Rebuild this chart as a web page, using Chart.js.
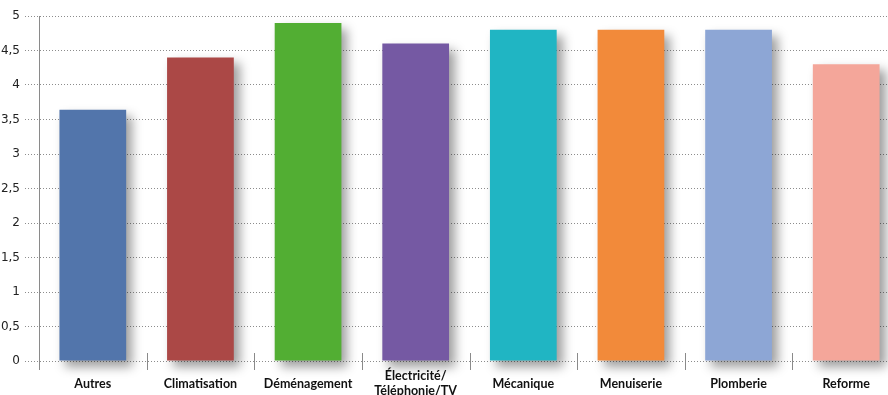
<!DOCTYPE html>
<html>
<head>
<meta charset="utf-8">
<script src="https://cdn.jsdelivr.net/npm/chart.js@4/dist/chart.umd.min.js"></script>
<style>
  html, body { margin: 0; padding: 0; background: #fff; overflow: hidden; }
  #wrap { width: 888px; height: 395px; overflow: hidden; }
</style>
</head>
<body>
<div id="wrap"><canvas id="noteChart" width="900" height="395"></canvas></div>
<script>
// Catégories et notes moyennes
const categories = ['Autres', 'Climatisation', 'Déménagement', ['Électricité/', 'Téléphonie/TV'], 'Mécanique', 'Menuiserie', 'Plomberie', 'Reforme'];
const notes = [3.64, 4.4, 4.9, 4.6, 4.8, 4.8, 4.8, 4.3];
const barColors = ['#5275AB', '#AB4846', '#52AE33', '#7559A3', '#20B5C3', '#F28A3A', '#8DA6D5', '#F4A69A'];
const yTicks = [0, 0.5, 1, 1.5, 2, 2.5, 3, 3.5, 4, 4.5, 5];

// Ombre portée sous les barres
const barShadow = {
    id: 'barShadow',
    beforeDatasetsDraw(chart) {
        const ctx = chart.ctx;
        ctx.save();
        ctx.shadowColor = 'rgba(0, 0, 0, 0.38)';
        ctx.shadowBlur = 10;
        ctx.shadowOffsetX = 6;
        ctx.shadowOffsetY = 6;
    },
    afterDatasetsDraw(chart) {
        chart.ctx.restore();
    }
};

// Petits traits verticaux entre les catégories
const categoryTicks = {
    id: 'categoryTicks',
    afterDraw(chart) {
        const ctx = chart.ctx;
        const x = chart.scales.x;
        const bottom = chart.chartArea.bottom;
        const step = x.getPixelForValue(1) - x.getPixelForValue(0);
        ctx.save();
        ctx.strokeStyle = '#8a8a8a';
        ctx.lineWidth = 1;
        for (let i = 0; i <= categories.length; i++) {
            const px = Math.round(x.getPixelForValue(0) - step / 2 + i * step) + 0.5;
            ctx.beginPath();
            ctx.moveTo(px, bottom - 8);
            ctx.lineTo(px, bottom + 9);
            ctx.stroke();
        }
        ctx.restore();
    }
};

const ctx = document.getElementById('noteChart').getContext('2d');

new Chart(ctx, {
    type: 'bar',
    data: {
        labels: categories,
        datasets: [{
            data: notes,
            backgroundColor: barColors,
            borderWidth: 0,
            categoryPercentage: 1,
            barPercentage: 0.62,
            clip: false
        }]
    },
    options: {
        responsive: false,
        animation: false,
        layout: {
            padding: { top: 16, right: 0, bottom: 0, left: 0 }
        },
        scales: {
            x: {
                grid: { display: false, drawTicks: false },
                border: { display: false },
                afterFit: function (scale) { scale.height = 34; },
                ticks: {
                    color: '#111',
                    padding: 15,
                    crossAlign: 'center',
                    maxRotation: 0,
                    autoSkip: false,
                    font: { family: 'Lato', weight: 'bold', size: 12.5 }
                }
            },
            y: {
                min: 0,
                max: 5,
                afterFit: function (scale) { scale.width = 39; },
                afterBuildTicks: function (scale) {
                    scale.ticks = yTicks.map(v => ({ value: v }));
                },
                grid: {
                    color: '#8c8c8c',
                    tickLength: 14,
                    tickBorderDash: [1, 2]
                },
                border: {
                    display: true,
                    color: '#8a8a8a',
                    width: 1,
                    dash: [1, 2]
                },
                ticks: {
                    color: '#222',
                    padding: 5,
                    font: { family: 'DejaVu Sans', size: 12 },
                    callback: function (value) {
                        return value.toString().replace('.', ',');
                    }
                }
            }
        },
        plugins: {
            legend: { display: false },
            tooltip: { enabled: false }
        }
    },
    plugins: [barShadow, categoryTicks]
});
</script>
</body>
</html>
